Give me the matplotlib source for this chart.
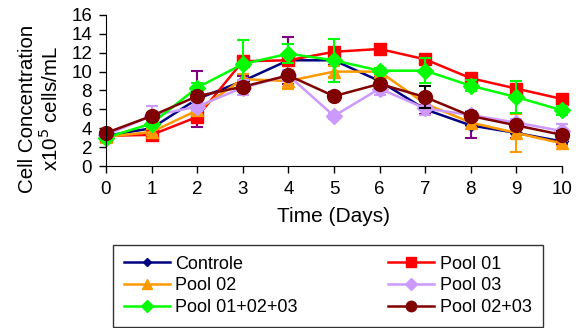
import numpy as np
import matplotlib
matplotlib.use("Agg")
import matplotlib.pyplot as plt

plt.rcParams["font.family"] = ["Liberation Sans", "DejaVu Sans"]

days = list(range(11))

series_names = ["Controle", "Pool 01", "Pool 02", "Pool 03", "Pool 01+02+03", "Pool 02+03"]

controle = [3.2, 4.0, 7.1, 9.0, 11.2, 11.2, 9.0, 6.0, 4.3, 3.5, 2.6]
pool01 = [3.2, 3.3, 5.2, 11.1, 11.2, 12.1, 12.4, 11.3, 9.3, 8.2, 7.1]
pool02 = [3.1, 3.6, 5.9, 9.2, 9.0, 10.0, 10.0, 6.6, 4.6, 3.5, 2.4]
pool03 = [3.3, 5.3, 6.3, 8.3, 9.6, 5.3, 8.2, 6.1, 5.4, 4.6, 3.7]
pool_all = [3.0, 4.5, 8.3, 10.8, 11.9, 11.2, 10.1, 10.1, 8.5, 7.3, 5.9]
pool0203 = [3.5, 5.3, 7.4, 8.4, 9.6, 7.4, 8.7, 7.3, 5.3, 4.3, 3.3]

controle_err = [0.2, 0.3, 3.0, 0.5, 2.5, 0.5, 0.5, 0.5, 1.3, 0.5, 0.3]
pool01_err = [0.2, 0.3, 0.5, 0.5, 0.4, 0.4, 0.3, 0.3, 0.3, 0.3, 0.3]
pool02_err = [0.2, 0.3, 0.5, 0.6, 0.8, 0.6, 0.4, 0.5, 0.7, 2.0, 0.3]
pool03_err = [0.2, 1.1, 0.5, 0.8, 0.6, 0.3, 0.7, 0.7, 0.4, 0.4, 0.8]
pool_all_err = [0.2, 0.4, 0.5, 2.5, 1.0, 2.3, 0.3, 1.3, 0.6, 1.7, 0.5]
pool0203_err = [0.2, 0.3, 0.4, 0.4, 0.4, 0.4, 0.4, 1.2, 0.4, 0.4, 0.4]

values = [controle, pool01, pool02, pool03, pool_all, pool0203]
errors = [controle_err, pool01_err, pool02_err, pool03_err, pool_all_err, pool0203_err]
colors = ["#000080", "#ff0000", "#ff9900", "#cc99ff", "#00ff00", "#800000"]
err_colors = ["#800080", "#ff0000", "#ff9900", "#cc99ff", "#00ff00", "#000000"]
markers = ["D", "s", "^", "D", "D", "o"]
msizes = [6, 9, 9, 8, 8, 10]

fig = plt.figure(figsize=(5.81, 3.28), dpi=100)
ax = fig.add_axes([0.1824, 0.4939, 0.7849, 0.4604])

handles = []
for name, y, e, c, ec, m, ms in zip(series_names, values, errors, colors, err_colors, markers, msizes):
    ax.errorbar(days, y, yerr=e, fmt="none", ecolor=ec, elinewidth=1.5,
                capsize=4, capthick=1.5, clip_on=False)
    ln, = ax.plot(days, y, color=c, marker=m, markersize=ms, linewidth=1.8,
                  label=name, clip_on=False)
    handles.append(ln)

ax.set_xlim(0, 10)
ax.set_ylim(0, 16)
ax.set_xticks(days)
ax.set_yticks(range(0, 17, 2))
ax.spines["top"].set_visible(False)
ax.spines["right"].set_visible(False)
ax.tick_params(axis="both", labelsize=13.5, length=5, width=1, direction="out")
ax.tick_params(axis="y", pad=5)
ax.tick_params(axis="x", pad=6)
ax.set_xlabel("Time (Days)", fontsize=15, labelpad=6)
ax.set_ylabel("Cell Concentration\nx10$^5$ cells/mL", fontsize=14.8, linespacing=1.05)
ax.yaxis.set_label_coords(-0.097, 0.38)

order = [0, 2, 4, 1, 3, 5]
leg = fig.legend([handles[i] for i in order], [series_names[i] for i in order],
                 loc="lower left", bbox_to_anchor=(0.194, 0.003, 0.740, 0.244),
                 mode="expand", ncol=2, fontsize=13, frameon=True, fancybox=False,
                 edgecolor="black", handlelength=2.55, handletextpad=0.3,
                 borderaxespad=0, borderpad=0.62, labelspacing=0.25, markerscale=0.75)
leg.get_frame().set_linewidth(1.0)

fig.savefig("out.png", dpi=100)
